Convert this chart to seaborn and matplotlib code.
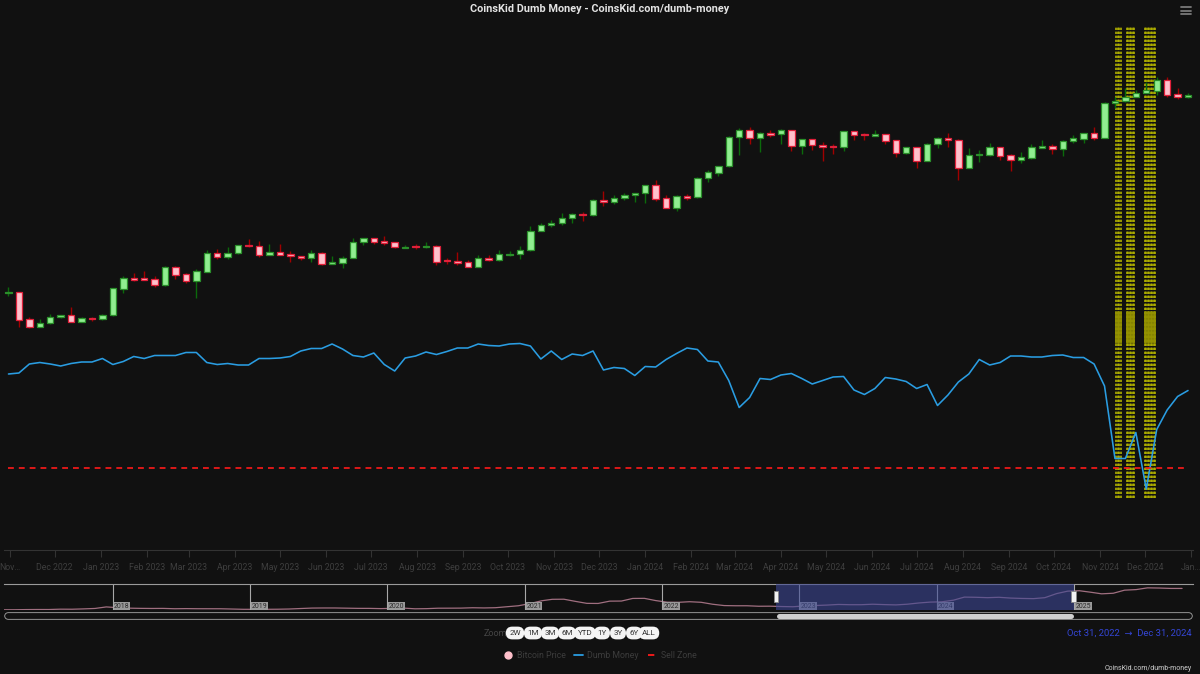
import numpy as np
import pandas as pd
import matplotlib
matplotlib.use('Agg')
import matplotlib.pyplot as plt
import matplotlib.dates as mdates
import matplotlib.transforms as mtrans
from matplotlib.lines import Line2D
from matplotlib.patches import Rectangle
import seaborn as sns

# ---- weekly Bitcoin candles (thousands of USD), weeks starting 2022-10-31 ----
first_week = '2022-10-31'
opens = [20.39, 20.47, 16.52, 15.59, 16.09, 16.78, 17.04, 16.21, 16.73, 16.52,
         17.04, 21.01, 22.91, 22.80, 22.68, 21.63, 24.85, 23.53, 22.31, 24.01,
         27.81, 27.00, 27.75, 29.61, 29.43, 27.45, 28.03, 27.66, 27.09, 26.80,
         27.75, 25.57, 25.77, 26.80, 30.31, 31.21, 30.54, 30.24, 28.99, 29.30,
         29.08, 29.43, 26.32, 26.11, 25.85, 24.96, 26.74, 26.25, 27.38, 27.60,
         28.39, 33.12, 34.65, 35.11, 36.51, 37.86, 37.48, 42.26, 41.50, 42.92,
         43.85, 44.44, 47.43, 42.83, 39.69, 43.59, 43.05, 50.22, 52.27, 54.91,
         69.11, 73.03, 68.42, 71.33, 70.61, 72.82, 64.20, 67.89, 64.92, 64.39,
         63.75, 72.27, 70.77, 69.80, 70.61, 67.33, 60.82, 63.75, 57.37, 65.58,
         68.58, 67.68, 54.32, 59.84, 60.02, 63.75, 59.84, 57.71, 58.62, 63.55,
         64.20, 63.06, 66.81, 68.21, 71.16, 68.74, 90.27, 91.88, 94.61, 97.64,
         99.38, 108.40, 96.89, 94.43]
highs = [21.29, 20.50, 16.78, 16.56, 17.18, 17.13, 18.16, 16.82, 16.78, 17.22,
         21.13, 23.21, 23.82, 24.14, 23.26, 25.10, 25.15, 23.71, 24.52, 28.47,
         28.76, 29.08, 29.68, 31.04, 30.47, 29.91, 29.84, 28.24, 27.15, 28.47,
         27.96, 27.21, 27.21, 31.36, 31.28, 31.28, 31.77, 30.31, 29.68, 29.91,
         30.31, 29.52, 26.74, 28.03, 26.32, 27.38, 27.38, 28.47, 28.24, 29.37,
         34.36, 35.11, 35.93, 38.16, 37.98, 38.45, 42.39, 45.13, 43.72, 44.54,
         44.64, 47.54, 49.45, 43.85, 43.72, 44.20, 50.50, 53.20, 55.01, 69.49,
         74.01, 74.75, 72.05, 72.82, 73.61, 73.20, 68.05, 68.05, 66.45, 65.28,
         72.44, 72.61, 71.16, 73.03, 70.77, 67.52, 64.04, 63.89, 65.80, 69.27,
         71.16, 67.89, 63.55, 62.42, 65.80, 63.89, 60.49, 61.44, 65.43, 67.52,
         65.43, 67.52, 70.39, 71.33, 74.75, 91.18, 94.83, 101.32, 99.98, 106.68,
         110.44, 110.44, 101.79, 97.87]
lows = [19.84, 15.51, 15.46, 15.51, 15.96, 16.65, 16.17, 16.17, 16.30, 16.43,
        16.95, 20.36, 22.26, 22.45, 21.29, 21.51, 22.68, 22.02, 19.53, 23.90,
        26.53, 26.53, 27.66, 29.14, 26.94, 27.29, 27.29, 25.85, 26.32, 25.85,
        25.31, 25.45, 24.71, 26.74, 29.68, 29.84, 29.61, 28.99, 28.92, 28.63,
        28.99, 25.31, 25.45, 25.31, 24.85, 24.90, 26.05, 26.11, 27.15, 26.47,
        28.24, 32.97, 34.18, 34.73, 35.11, 35.82, 37.08, 40.30, 40.86, 42.16,
        41.59, 41.08, 41.91, 39.60, 38.75, 42.16, 42.83, 48.66, 51.00, 54.79,
        59.84, 65.58, 61.44, 69.27, 65.58, 61.77, 60.49, 62.57, 57.11, 60.63,
        62.06, 67.52, 67.52, 69.70, 65.58, 59.21, 60.63, 54.19, 57.24, 63.25,
        64.04, 49.45, 54.19, 56.80, 59.33, 57.89, 52.92, 56.23, 58.30, 63.40,
        60.49, 59.33, 66.10, 66.10, 67.52, 68.58, 86.80, 91.18, 94.43, 97.41,
        96.13, 94.43, 93.16, 94.13]
closes = [20.47, 16.43, 15.59, 16.09, 16.82, 17.04, 16.21, 16.73, 16.52, 17.04,
          21.08, 22.80, 22.55, 22.50, 21.63, 24.85, 23.46, 22.26, 24.08, 27.81,
          27.00, 27.81, 29.61, 29.30, 27.38, 28.03, 27.45, 27.15, 26.67, 27.75,
          25.57, 25.85, 26.80, 30.31, 31.21, 30.38, 30.15, 29.14, 29.21, 29.08,
          29.43, 25.97, 26.11, 25.71, 24.96, 26.74, 26.25, 27.53, 27.60, 28.47,
          33.12, 34.65, 35.20, 36.60, 37.69, 37.36, 42.16, 41.50, 42.83, 43.85,
          44.54, 47.43, 42.59, 39.69, 43.59, 42.83, 50.22, 52.39, 54.91, 69.11,
          73.03, 68.42, 71.16, 70.39, 72.82, 64.39, 67.89, 64.73, 64.04, 63.75,
          72.27, 70.22, 70.02, 70.77, 67.12, 60.82, 63.75, 57.37, 65.58, 68.58,
          67.52, 54.32, 60.02, 60.49, 63.75, 59.49, 57.54, 58.94, 64.04, 64.20,
          62.91, 66.97, 68.42, 71.16, 68.74, 90.27, 91.88, 94.83, 97.87, 99.69,
          108.14, 96.36, 94.43, 96.36]

# ---- Dumb Money indicator (weekly) and sell threshold ----
dumb_money = [35.2, 35.4, 37.2, 37.5, 37.2, 36.8, 37.3, 37.6, 37.6, 38.3,
              37.1, 37.7, 38.7, 38.3, 38.9, 38.9, 38.9, 39.5, 39.5, 37.5,
              37.1, 37.3, 37.0, 37.0, 38.3, 38.3, 38.4, 38.7, 39.8, 40.3,
              40.3, 41.2, 40.2, 38.9, 38.6, 39.4, 37.1, 35.8, 38.4, 38.8,
              39.6, 39.1, 39.7, 40.4, 40.4, 41.2, 40.9, 40.8, 41.2, 41.3,
              40.8, 38.2, 39.8, 38.1, 39.2, 38.9, 39.8, 36.0, 36.5, 36.3,
              34.9, 36.7, 36.6, 38.1, 39.3, 40.4, 40.1, 37.8, 37.6, 33.9,
              28.5, 30.5, 34.3, 34.1, 35.0, 35.3, 34.3, 33.2, 33.9, 34.6,
              34.7, 32.0, 31.1, 32.3, 34.5, 34.2, 33.7, 32.3, 33.1, 28.9,
              31.0, 33.6, 35.2, 38.1, 37.0, 37.5, 38.8, 38.8, 38.6, 38.6,
              38.9, 39.0, 38.5, 38.5, 37.2, 32.8, 18.3, 18.3, 23.5, 12.2,
              24.1, 28.0, 30.7, 31.9]
sell_zone = 16.4

# days flagged in the sell zone
signal_days = ['2024-11-12', '2024-11-13', '2024-11-14', '2024-11-15',
               '2024-11-19', '2024-11-20', '2024-11-21', '2024-11-22',
               '2024-11-23', '2024-11-24',
               '2024-12-01', '2024-12-02', '2024-12-03', '2024-12-04',
               '2024-12-05', '2024-12-06', '2024-12-07', '2024-12-08']

# ---- navigator: monthly Bitcoin price (thousands USD), Mar 2017 - Oct 2025 ----
nav_start = '2017-03-01'
nav_price = [1.1, 1.3, 2.2, 2.6, 2.5, 4.3, 4.0, 5.7, 8.0, 16.0,
             12.0, 9.5, 8.5, 8.0, 8.3, 6.5, 7.2, 6.6, 6.5, 6.4, 5.0, 3.6,
             3.6, 3.7, 4.0, 5.1, 7.6, 10.0, 10.5, 10.5, 9.5, 8.5, 8.4, 7.2,
             8.5, 9.7, 6.2, 7.0, 9.3, 9.5, 9.8, 11.7, 10.7, 11.9, 17.0, 22.0,
             33.5, 48.0, 55.5, 56.0, 45.0, 34.5, 34.0, 46.0, 46.5, 60.0, 60.5, 49.0,
             40.5, 40.0, 43.0, 40.0, 30.0, 23.0, 22.0, 22.0, 19.5, 19.8, 18.0, 16.9,
             21.0, 23.5, 25.5, 28.8, 27.5, 27.5, 30.0, 28.0, 26.5, 30.0, 36.5, 41.0,
             42.5, 51.0, 67.0, 66.0, 64.0, 66.0, 62.0, 60.0, 59.0, 64.0, 85.0, 98.0,
             100.0, 92.0, 84.0, 87.0, 103.0, 106.0, 115.0, 114.0, 112.0, 112.0]
nav_years = ['2018', '2019', '2020', '2021', '2022', '2023', '2024', '2025']

range_start, range_end = '2022-10-31', '2024-12-31'
zoom_buttons = ['2W', '1M', '3M', '6M', 'YTD', '1Y', '3Y', '6Y', 'ALL']

# ---- style ----
BG = '#111111'
sns.set_theme(style='dark', rc={'axes.facecolor': BG, 'figure.facecolor': BG,
                                'savefig.facecolor': BG})
plt.rcParams['font.family'] = ['Roboto', 'DejaVu Sans']

W, H = 1200, 674
fig = plt.figure(figsize=(W / 100, H / 100), dpi=100)


def fx(px):
    return px / W


def fy(py):
    return 1 - py / H


weeks = pd.date_range(first_week, periods=len(opens), freq='7D')
xw = mdates.date2num(weeks)
o = np.array(opens) * 1000
h = np.array(highs) * 1000
l = np.array(lows) * 1000
c = np.array(closes) * 1000

# main pane
ax = fig.add_axes([fx(4), fy(550), fx(1189), 523 / H])
ax.set_facecolor(BG)
ax.set_yscale('log')
ax.set_ylim(2702, 163900)
ax.set_xlim(mdates.date2num(pd.Timestamp('2022-10-28')),
            mdates.date2num(pd.Timestamp('2025-01-02 08:00')))

# sell-zone day markers
for d in signal_days:
    xd = mdates.date2num(pd.Timestamp(d))
    ax.axvline(xd, ymin=0.0994, ymax=1.0, color='#b0b000', lw=1.2,
               linestyle=(0, (1.4, 1.0)), zorder=1)
    ax.axvline(xd, ymin=0.396, ymax=0.455, color='#929000', lw=1.3, zorder=1)

up = c >= o
ax.vlines(xw, l, h, colors=np.where(up, '#0b6a0b', '#a00000'), linewidth=1.0, zorder=3)
ax.bar(xw, np.maximum(o, c) - np.minimum(o, c), bottom=np.minimum(o, c), width=4.3,
       color=np.where(up, '#90ee90', '#ffc0cb'),
       edgecolor=np.where(up, '#2a8f2a', '#e0203a'), linewidth=0.9, zorder=4)

# x axis: month ticks
months = pd.date_range('2022-11-01', '2025-01-01', freq='MS')
labels = [m.strftime('%b %Y') for m in months]
labels[0] = 'Nov…'
labels[-1] = 'Jan…'
ax.set_xticks(mdates.date2num(months))
ax.set_xticklabels(labels)
ax.tick_params(axis='x', colors='#333333', labelcolor='#3e3e3e', length=5, width=0.8,
               labelsize=6.3, pad=4, direction='out', bottom=True)
ax.set_yticks([])
ax.yaxis.set_minor_locator(matplotlib.ticker.NullLocator())
ax.grid(False)
for s in ['top', 'left', 'right']:
    ax.spines[s].set_visible(False)
ax.spines['bottom'].set_color('#333333')
ax.spines['bottom'].set_linewidth(0.8)

# dumb money pane (shared x)
ax2 = ax.twinx()
ax2.set_ylim(0, 104.6)
ax2.patch.set_visible(False)
sns.lineplot(x=xw, y=dumb_money, ax=ax2, color='#2a9de2', linewidth=1.15, legend=False)
ax2.hlines(sell_zone, xw[0], xw[-1], colors='#ff1a1a', linewidth=1.2,
           linestyles=(0, (3.5, 3.0)))
ax2.set_yticks([])
ax2.grid(False)
for s in ax2.spines.values():
    s.set_visible(False)
ax2.set_xlim(ax.get_xlim())

# navigator
nav_dates = pd.date_range(nav_start, periods=len(nav_price), freq='MS') + pd.Timedelta(days=14)
xn = mdates.date2num(nav_dates)
axn = fig.add_axes([fx(4), fy(610), fx(1189), 26 / H])
axn.set_facecolor(BG)
nav_lo = mdates.date2num(pd.Timestamp('2017-03-18'))
nav_hi = mdates.date2num(pd.Timestamp('2025-11-13'))
axn.set_xlim(nav_lo, nav_hi)
axn.set_ylim(0, 135)
sns.lineplot(x=xn, y=nav_price, ax=axn, color='#a06f80', linewidth=0.9, legend=False)
btr = mtrans.blended_transform_factory(axn.transData, axn.transAxes)
for yr in nav_years:
    xy = mdates.date2num(pd.Timestamp(yr + '-01-01'))
    axn.axvline(xy, color='#a8a8a8', lw=0.8, zorder=2)
    axn.text(xy + 4, 0.08, yr, transform=btr, fontsize=5, color='#2a2a2a',
             bbox=dict(facecolor='#9a9a9a', edgecolor='none', pad=0.4), zorder=3)
r0 = mdates.date2num(pd.Timestamp(range_start))
r1 = mdates.date2num(pd.Timestamp(range_end))
axn.add_patch(Rectangle((r0, 0), r1 - r0, 1, transform=btr, facecolor='#3d4896',
                        alpha=0.6, edgecolor='none', zorder=4))
for xe in (r0, r1):
    axn.add_patch(Rectangle((xe - 6.5, 0.3), 13, 0.42, transform=btr, facecolor='#f2f2f2',
                            edgecolor='#8a8a8a', linewidth=0.6, zorder=5))
axn.set_xticks([])
axn.set_yticks([])
axn.grid(False)
for s in ['bottom', 'left', 'right']:
    axn.spines[s].set_visible(False)
axn.spines['top'].set_color('#9a9a9a')
axn.spines['top'].set_linewidth(0.8)

# scrollbar
axs = fig.add_axes([fx(4), fy(620), fx(1189), 8 / H])
axs.set_xlim(nav_lo, nav_hi)
axs.set_ylim(0, 1)
axs.axis('off')
cap = 3.6 / 0.3762
axs.plot([nav_lo + cap, nav_hi - cap], [0.5, 0.5], color='#aaaaaa', lw=5.4,
         solid_capstyle='round')
axs.plot([nav_lo + cap, nav_hi - cap], [0.5, 0.5], color=BG, lw=4.2,
         solid_capstyle='round')
axs.plot([r0 + 7, r1 - 7], [0.5, 0.5], color='#cfcfcf', lw=3.6, solid_capstyle='round')

# title and menu icon
fig.text(0.5, fy(9), 'CoinsKid Dumb Money - CoinsKid.com/dumb-money', ha='center',
         va='center', fontsize=7.8, fontweight='bold', color='#e4e4e4')
for yy in (7, 10.5, 14):
    fig.add_artist(Line2D([fx(1181), fx(1191)], [fy(yy), fy(yy)], color='#7a7a7a', lw=1.3))

# range selector buttons
fig.text(fx(495), fy(633), 'Zoom', ha='center', va='center', fontsize=6.5, color='#454545')
btn_x = [515, 533, 550, 567, 585, 602, 618, 634, 649]
for lab, bx in zip(zoom_buttons, btn_x):
    fig.text(fx(bx), fy(633), lab, ha='center', va='center', fontsize=5.8, color='#333333',
             bbox=dict(boxstyle='round,pad=0.42,rounding_size=0.8', facecolor='#f4f4f4',
                       edgecolor='none'))
fig.text(fx(1192), fy(633), 'Oct 31, 2022  \u2192  Dec 31, 2024', ha='right', va='center',
         fontsize=6.8, color='#3446d6')

# legend
handles = [Line2D([], [], marker='o', linestyle='none', markersize=5,
                  markerfacecolor='#ffc0cb', markeredgecolor='#ffc0cb'),
           Line2D([], [], color='#2a9de2', lw=1.3),
           Line2D([], [], color='#ff1a1a', lw=1.3, linestyle=(0, (3.5, 2.0)))]
fig.legend(handles, ['Bitcoin Price', 'Dumb Money', 'Sell Zone'], loc='center',
           bbox_to_anchor=(0.5, fy(656)), ncol=3, frameon=False, fontsize=6.3,
           labelcolor='#3c3c3c', handlelength=1.0, handletextpad=0.5, columnspacing=1.0)

fig.text(fx(1192), fy(668), 'CoinsKid.com/dumb-money', ha='right', va='center',
         fontsize=5, color='#cfcfcf')

fig.savefig('out.png', dpi=100, facecolor=BG)
